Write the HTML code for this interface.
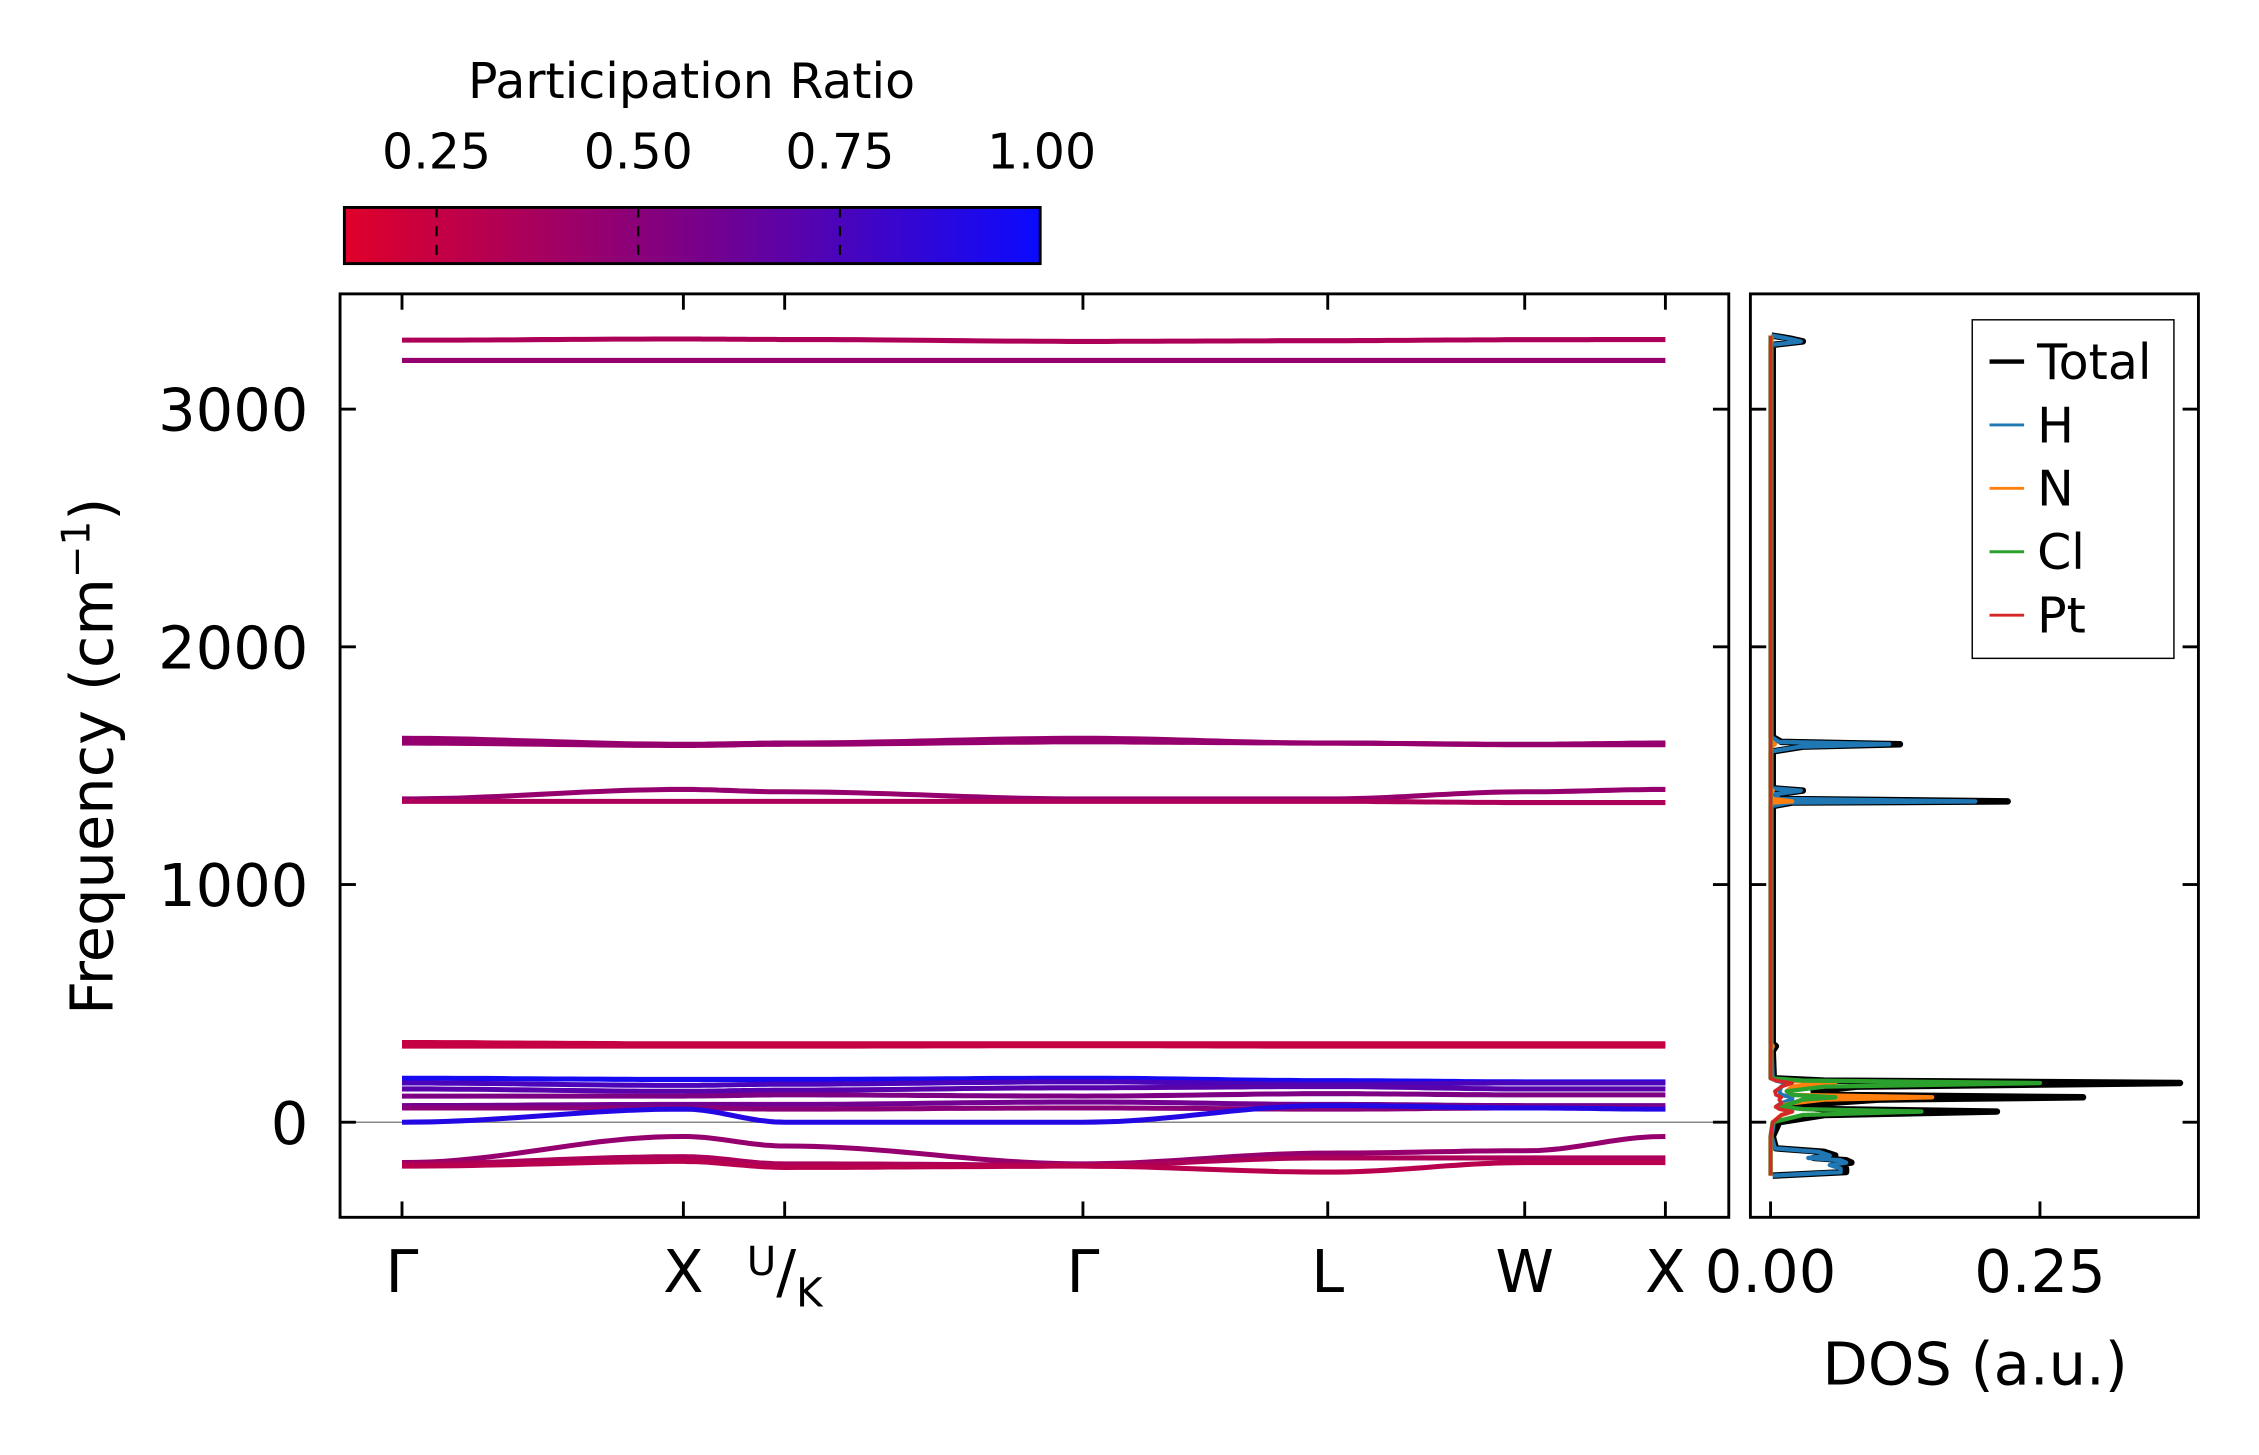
<!DOCTYPE html>
<html><head><meta charset="utf-8"><style>
html,body{margin:0;padding:0;background:#fff}
svg{display:block}
text{font-family:"DejaVu Sans","Liberation Sans",sans-serif;fill:#000}
</style></head><body>
<svg id="chart" width="2259" height="1455" viewBox="0 0 1568 1010" xmlns="http://www.w3.org/2000/svg">
<defs>
<linearGradient id="cmap" x1="0" x2="1" y1="0" y2="0">
<stop offset="0" stop-color="#e0002a"/><stop offset="0.5" stop-color="#7a0088"/><stop offset="1" stop-color="#0a0aff"/>
</linearGradient>
</defs>
<g id="colorbar">
<text x="480" y="68" font-size="34" text-anchor="middle">Participation Ratio</text>
<rect x="239" y="144" width="483" height="39" fill="url(#cmap)" stroke="#000" stroke-width="2"/>
</g>
<g id="main"></g>
<g id="dos"></g>
<text transform="translate(78,525) rotate(-90)" font-size="41" text-anchor="middle">Frequency (cm<tspan font-size="27" dy="-16">−1</tspan><tspan dy="16">)</tspan></text>
<text x="1371" y="961" font-size="41" text-anchor="middle">DOS (a.u.)</text>
</svg>
<script>
// ---- data ----
const kLabels = ["Γ","X","U/K","Γ","L","W","X"];
const kPos = [0, 1.0, 1.36, 2.42, 3.29, 3.99, 4.49];
const yTicks = [0,1000,2000,3000];
const cbTicks = [0.25,0.50,0.75,1.00];
// band frequencies at each high-symmetry point
const bandFreqs = [
 [3290,3295,3293,3285,3288,3292,3293],
 [3205,3205,3205,3205,3205,3205,3205],
 [1615,1590,1595,1615,1595,1590,1595],
 [1595,1585,1590,1600,1595,1588,1588],
 [1360,1400,1390,1360,1360,1390,1400],
 [1350,1350,1350,1350,1350,1345,1345],
 [335,330,330,330,330,330,330],
 [320,320,320,322,320,320,320],
 [185,180,180,185,175,170,170],
 [165,155,160,170,160,165,165],
 [140,130,135,145,150,140,140],
 [110,110,115,110,120,115,115],
 [70,75,75,85,75,70,70],
 [60,60,55,60,55,60,60],
 [0,55,0,0,70,60,55],
 [-170,-60,-100,-175,-130,-120,-60],
 [-175,-145,-175,-180,-150,-150,-150],
 [-185,-165,-190,-185,-210,-170,-170]
];
const bandRatio = [0.35,0.45,0.45,0.45,0.45,0.35,0.25,0.25,0.95,0.75,0.7,0.55,0.6,0.5,0.9,0.45,0.35,0.3];
// DOS
const dosFreq = [-225,-210,-195,-180,-170,-160,-150,-140,-125,-110,-60,0,30,45,55,65,80,95,105,115,130,150,165,175,185,300,320,330,1330,1345,1350,1360,1380,1395,1405,1560,1580,1590,1600,1620,3270,3285,3295,3310];
const dosTotal=[0.002,0.07,0.07,0.06,0.075,0.07,0.04,0.06,0.05,0.005,0.002,0.008,0.05,0.21,0.05,0.02,0.05,0.10,0.29,0.05,0.04,0.08,0.38,0.05,0.003,0.002,0.005,0.002,0.002,0.02,0.22,0.01,0.005,0.03,0.002,0.002,0.03,0.12,0.01,0.002,0.002,0.03,0.02,0.001];
const dosH=[0.002,0.065,0.065,0.055,0.07,0.065,0.035,0.055,0.045,0.004,0.001,0.003,0.01,0.02,0.01,0.005,0.01,0.02,0.02,0.01,0.008,0.01,0.015,0.005,0.002,0.001,0.002,0.001,0.001,0.018,0.19,0.008,0.004,0.028,0.001,0.001,0.028,0.11,0.008,0.001,0.001,0.028,0.018,0.001];
const dosN=[0,0,0,0,0,0,0,0,0,0,0,0.002,0.01,0.02,0.01,0.005,0.02,0.05,0.15,0.02,0.015,0.02,0.06,0.01,0,0,0.002,0,0,0.002,0.02,0.001,0,0.002,0,0,0.001,0.004,0.001,0,0,0.001,0.001,0];
const dosCl=[0,0,0,0,0,0,0,0,0,0,0,0.002,0.03,0.14,0.03,0.01,0.02,0.03,0.06,0.02,0.015,0.05,0.25,0.03,0,0,0,0,0,0,0,0,0,0,0,0,0,0,0,0,0,0,0,0];
const dosPt=[0,0,0,0,0,0,0,0,0,0,0,0.002,0.01,0.02,0.008,0.005,0.01,0.008,0.01,0.005,0.004,0.01,0.02,0.005,0,0,0,0,0,0,0,0,0,0,0,0,0,0,0,0,0,0,0,0];

// ---- axes ----
const NS="http://www.w3.org/2000/svg";
const X0=279, X1=1156;
const xk = k => X0 + (k/kPos[kPos.length-1])*(X1-X0);
const yf = v => 779 - 0.165*v;
const xd = d => 1229 + d*(187/0.25);
const xcb = r => 303 + (r-0.25)*(140/0.25);
function mk(tag, attrs, parent){const e=document.createElementNS(NS,tag);for(const k in attrs)e.setAttribute(k,attrs[k]);parent.appendChild(e);return e;}
function cmap(r){const t=Math.max(0,Math.min(1,(r-0.136)/(1-0.136)));
 const a=[224,0,42],m=[122,0,136],b=[10,10,255];let c;
 if(t<0.5){const u=t/0.5;c=a.map((v,i)=>v+(m[i]-v)*u);}else{const u=(t-0.5)/0.5;c=m.map((v,i)=>v+(b[i]-v)*u);}
 return `rgb(${c.map(Math.round).join(",")})`;}
const main=document.getElementById('main');
const dos=document.getElementById('dos');
const cb=document.getElementById('colorbar');

cbTicks.forEach(t=>{
 const x=xcb(t);
 if(t<1){const l=mk('line',{x1:x,x2:x,y1:144,y2:183,stroke:'#000','stroke-width':1.5,'stroke-dasharray':'7,6'},cb);
 
 }
 const tx=mk('text',{x:x,y:117,'font-size':34,'text-anchor':'middle'},cb);tx.textContent=t.toFixed(2);
 
 
});

const z=mk('line',{x1:236,x2:1200,y1:yf(0),y2:yf(0),stroke:'#888','stroke-width':1},main);



bandFreqs.forEach((fs,bi)=>{
 let d='';
 for(let s=0;s<fs.length-1;s++){
  for(let j=0;j<=20;j++){const u=j/20;const w=(1-Math.cos(Math.PI*u))/2;
   const k=kPos[s]+(kPos[s+1]-kPos[s])*u;const v=fs[s]+(fs[s+1]-fs[s])*w;
   d+=(d?'L':'M')+xk(k).toFixed(1)+','+yf(v).toFixed(1);}
 }
 const p=mk('path',{d:d,fill:'none',stroke:cmap(bandRatio[bi]),'stroke-width':3.5},main);
 
 
});

const f=mk('rect',{x:236,y:204,width:964,height:641,fill:'none',stroke:'#000','stroke-width':2},main);


kLabels.forEach((lab,i)=>{
 const x=xk(kPos[i]);
 mk('line',{x1:x,x2:x,y1:845,y2:834,stroke:'#000','stroke-width':2},main);
 mk('line',{x1:x,x2:x,y1:204,y2:215,stroke:'#000','stroke-width':2},main);
 const t=mk('text',{x:x,y:897,'font-size':41,'text-anchor':'middle'},main);
 if(lab==="U/K"){t.innerHTML='<tspan font-size="28" dy="-12">U</tspan><tspan dy="12">/</tspan><tspan font-size="28" dy="10">K</tspan>';}
 else t.textContent=lab;
 
 
});
yTicks.forEach(v=>{
 const y=yf(v);
 mk('line',{x1:236,x2:247,y1:y,y2:y,stroke:'#000','stroke-width':2},main);
 mk('line',{x1:1189,x2:1200,y1:y,y2:y,stroke:'#000','stroke-width':2},main);
 mk('line',{x1:1215,x2:1226,y1:y,y2:y,stroke:'#000','stroke-width':2},dos);
 mk('line',{x1:1515,x2:1526,y1:y,y2:y,stroke:'#000','stroke-width':2},dos);
 const t=mk('text',{x:214,y:y+15,'font-size':41,'text-anchor':'end'},main);t.textContent=v;
 
 
});

const series=[[dosTotal,'#000',4.5,'dos-total'],[dosH,'#1f77b4',3,'dos-h'],[dosN,'#ff7f0e',3,'dos-n'],[dosCl,'#2ca02c',3,'dos-cl'],[dosPt,'#d62728',2.5,'dos-pt']];
series.forEach(([vals,col,w,name])=>{
 let d='';
 dosFreq.forEach((fq,i)=>{d+=(i?'L':'M')+xd(vals[i]).toFixed(1)+','+yf(fq).toFixed(1);});
 const p=mk('path',{d:d,fill:'none',stroke:col,'stroke-width':w,'stroke-linejoin':'round'},dos);
 
 
});
const df=mk('rect',{x:1215,y:204,width:311,height:641,fill:'none',stroke:'#000','stroke-width':2},dos);


[0,0.25].forEach(v=>{
 const x=xd(v);
 mk('line',{x1:x,x2:x,y1:845,y2:834,stroke:'#000','stroke-width':2},dos);
 const t=mk('text',{x:x,y:897,'font-size':41,'text-anchor':'middle'},dos);t.textContent=v.toFixed(2);
 
 
});

const lg=mk('g',{},dos);


mk('rect',{x:1369,y:222,width:140,height:235,fill:'#fff',stroke:'#000','stroke-width':1},lg);
[['Total','#000'],['H','#1f77b4'],['N','#ff7f0e'],['Cl','#2ca02c'],['Pt','#d62728']].forEach(([n,c],i)=>{
 const y=251+i*44;
 const e=mk('g',{},lg);
 
 
 mk('line',{x1:1381,x2:1405,y1:y,y2:y,stroke:c,'stroke-width':i?2:3},e);
 const t=mk('text',{x:1414,y:y+12,'font-size':34},e);t.textContent=n;
});
</script>
</body></html>
